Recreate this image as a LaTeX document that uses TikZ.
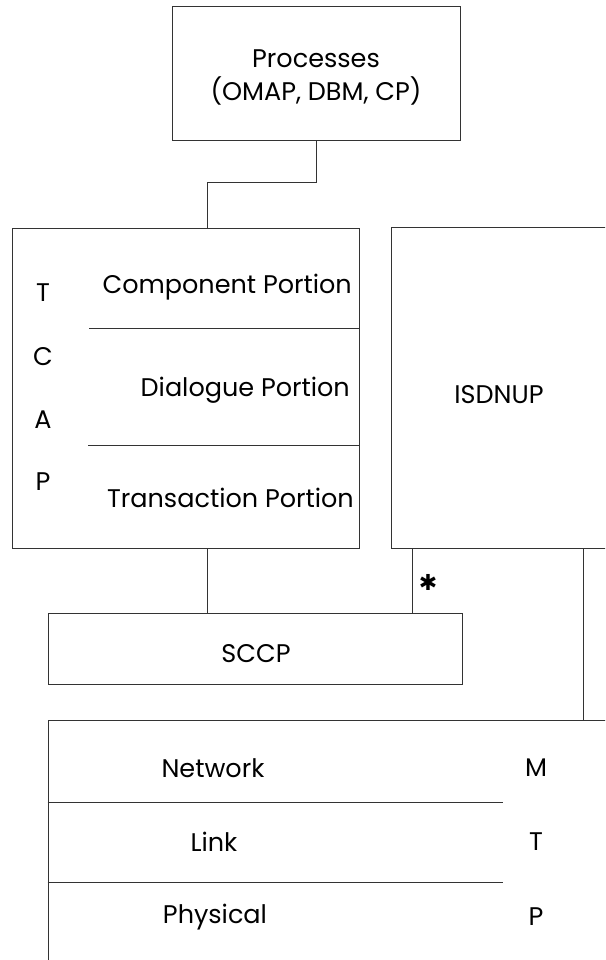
\documentclass[tikz,border=0pt]{standalone}
\usepackage{fontspec}
\setmainfont{Poppins}
\newfontfamily\symfont{DejaVu Sans}
\begin{document}
\begin{tikzpicture}[x=1pt,y=-1pt,
  box/.style={draw=black!80,line width=0.9pt,rectangle,inner sep=0pt},
  wire/.style={draw=black!80,line width=0.9pt},
  lbl/.style={font=\fontsize{25.5}{33}\selectfont,inner sep=0pt,text=black}]
\useasboundingbox (0,0) rectangle (605,960);
\clip (0,0) rectangle (605,960);
% boxes
\node[box,minimum width=288pt,minimum height=134pt] (proc) at (316,73) {};
\node[lbl,align=center] (proctext) at (316,77) {Processes\\(OMAP, DBM, CP)};
\node[box,minimum width=347pt,minimum height=320pt] (tcap) at (185.5,388) {};
\node[box,minimum width=216pt,minimum height=321pt] (isdn) at (499,387.5) {};
\node[box,minimum width=414pt,minimum height=71pt] (sccp) at (255,648.5) {};
\node[box,minimum width=602pt,minimum height=280pt] (mtp) at (349,860) {};
% TCAP internals
\draw[wire] (89,328) -- (tcap.east |- 0,328);
\draw[wire] (88,445) -- (tcap.east |- 0,445);
\node[lbl] (tT) at (43,293) {T};
\node[lbl] (tC) at (43,357) {C};
\node[lbl] (tA) at (43,420) {A};
\node[lbl] (tP) at (43,482) {P};
\node[lbl,anchor=east] (comp) at (352,287) {Component Portion};
\node[lbl,anchor=east] (dial) at (350,390) {Dialogue Portion};
\node[lbl,anchor=east] (trans) at (354,498) {Transaction Portion};
% ISDNUP / SCCP labels
\node[lbl] (isdntext) at (499,395) {ISDNUP};
\node[lbl] (sccptext) at (256,654) {SCCP};
% MTP internals
\draw[wire] (mtp.west |- 0,802) -- (503,802);
\draw[wire] (mtp.west |- 0,882) -- (503,882);
\node[lbl] (net) at (213,768) {Network};
\node[lbl] (link) at (214,842) {Link};
\node[lbl] (phys) at (215,917) {Physical};
\node[lbl] (mM) at (536,768) {M};
\node[lbl] (mT) at (536,842) {T};
\node[lbl] (mP) at (536,917) {P};
% connectors
\coordinate (j1) at (207,182);
\coordinate (j2) at (412,0);
\coordinate (j3) at (583,0);
\draw[wire] (proc.south) |- (j1) -- (j1 |- tcap.north);
\draw[wire] (tcap.south -| j1) -- (sccp.north -| j1);
\draw[wire] (isdn.south -| j2) -- (sccp.north -| j2);
\draw[wire] (isdn.south -| j3) -- (mtp.north -| j3);
\node[inner sep=0pt,font=\symfont\fontsize{22}{22}\selectfont] (ast) at (428,582) {✱};
\end{tikzpicture}
\end{document}
